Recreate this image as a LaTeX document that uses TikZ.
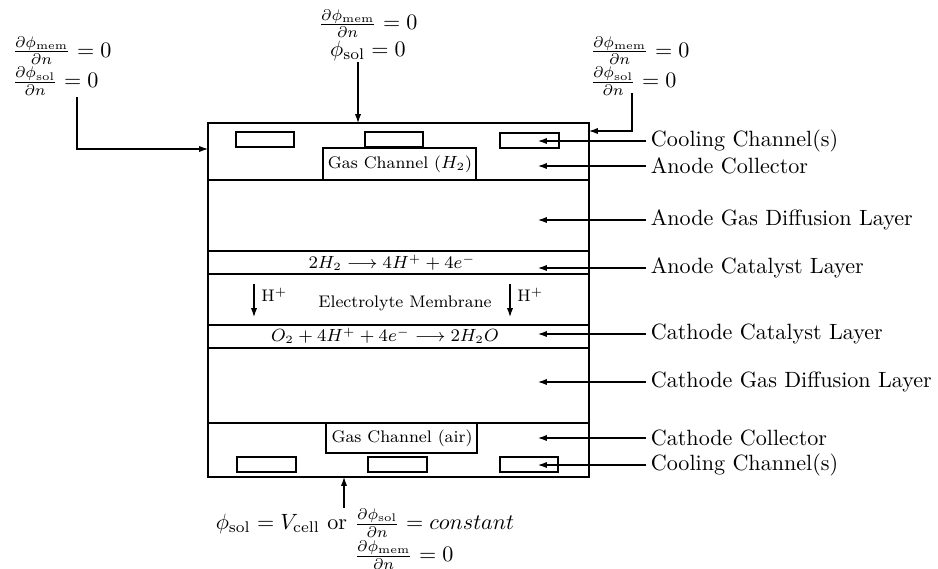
\documentclass[tikz,border=0pt]{standalone}
\usetikzlibrary{arrows.meta}
\begin{document}
\begin{tikzpicture}[x=0.4525pt,y=-0.4525pt,
  layer/.style={line width=1.3pt},
  thinlayer/.style={line width=0.7pt},
  chan/.style={draw,line width=0.6pt},
  arr/.style={line width=0.5pt,-{Latex[length=4pt,width=2.8pt]}},
  lbl/.style={anchor=west,inner sep=2pt,font=\normalsize},
  inlbl/.style={font=\fontsize{7.6}{9}\selectfont,inner sep=0pt},
  cond/.style={inner sep=0pt,align=left}]
\useasboundingbox (0,0) rectangle (938,569);

% cell layers
\draw[layer] (208,123) rectangle (589,477);
\foreach \yy in {180,274,325,348,423} \draw[layer] (208,\yy) -- (589,\yy);
\draw[thinlayer] (208,251) -- (589,251);

% cooling channels
\draw[chan] (236,132) rectangle (294,147);
\draw[chan] (365,132) rectangle (423,147);
\draw[chan] (500,133) rectangle (559,148);
\draw[chan] (237,457) rectangle (296,472);
\draw[chan] (368,457) rectangle (427,472);
\draw[chan] (500,457) rectangle (558,472);

% gas channels
\draw[chan] (323,180) |- (476,148) -- (476,180);
\node[inlbl] (gch) at (400,164) {Gas Channel ($H_2$)};
\draw[chan] (326,423) |- (477,453) -- (477,423);
\node[inlbl] (gca) at (402,438) {Gas Channel (air)};

% reactions and membrane
\node[inlbl] (acat) at (392,263) {$2H_2 \longrightarrow 4H^+ + 4e^-$};
\node[inlbl] (ccat) at (385,336) {$O_2 + 4H^+ + 4e^- \longrightarrow 2H_2O$};
\node[inlbl] (mem) at (405,303) {Electrolyte Membrane};
\coordinate (hl1) at (254,284); \coordinate (hl2) at (254,317);
\coordinate (hr1) at (510,284); \coordinate (hr2) at (510,317);
\draw[arr] (hl1) -- (hl2);
\draw[arr] (hr1) -- (hr2);
\node[inlbl,anchor=west] (hpl) at (261,295) {H$^+$};
\node[inlbl,anchor=west] (hpr) at (517,295) {H$^+$};

% right labels
\node[lbl] (l1) at (646,141) {Cooling Channel(s)};
\node[lbl] (l2) at (646,166) {Anode Collector};
\node[lbl] (l3) at (646,220) {Anode Gas Diffusion Layer};
\node[lbl] (l4) at (646,268) {Anode Catalyst Layer};
\node[lbl] (l5) at (646,334) {Cathode Catalyst Layer};
\node[lbl] (l6) at (646,382) {Cathode Gas Diffusion Layer};
\node[lbl] (l7) at (646,438) {Cathode Collector};
\node[lbl] (l8) at (646,465) {Cooling Channel(s)};
\coordinate (t1) at (538,141);
\coordinate (t2) at (538,166);
\coordinate (t3) at (538,220);
\coordinate (t4) at (538,268);
\coordinate (t5) at (538,334);
\coordinate (t6) at (538,382);
\coordinate (t7) at (538,438);
\coordinate (t8) at (538,465);
\foreach \i in {1,...,8} \draw[arr] (l\i.west) -- (t\i);

% boundary conditions
\node[cond,anchor=west] (ctl) at (12,66) {$\frac{\partial\phi_{\mathrm{mem}}}{\partial n}=0$\\$\frac{\partial\phi_{\mathrm{sol}}}{\partial n}=0$};
\coordinate (ctls) at (77,97);
\coordinate (cellw) at (208,149);
\draw[arr] (ctls) |- (cellw);

\node[cond,align=center] (ctc) at (368,35) {$\frac{\partial\phi_{\mathrm{mem}}}{\partial n}=0$\\$\phi_{\mathrm{sol}}=0$};
\coordinate (ctcs) at (358,62);
\coordinate (celln) at (358,123);
\draw[arr] (ctcs) -- (celln);

\node[cond,anchor=west] (ctr) at (590,66) {$\frac{\partial\phi_{\mathrm{mem}}}{\partial n}=0$\\$\frac{\partial\phi_{\mathrm{sol}}}{\partial n}=0$};
\coordinate (ctrs) at (632,93);
\coordinate (celle) at (589,131);
\draw[arr] (ctrs) |- (celle);

\node[inner sep=0pt] (cb1) at (365,523) {$\phi_{\mathrm{sol}}=V_{\mathrm{cell}}$ or $\frac{\partial\phi_{\mathrm{sol}}}{\partial n}=constant$};
\node[inner sep=0pt] (cb2) at (404,555) {$\frac{\partial\phi_{\mathrm{mem}}}{\partial n}=0$};
\coordinate (cbs) at (344,508);
\coordinate (cells) at (344,477);
\draw[arr] (cbs) -- (cells);
\end{tikzpicture}
\end{document}
